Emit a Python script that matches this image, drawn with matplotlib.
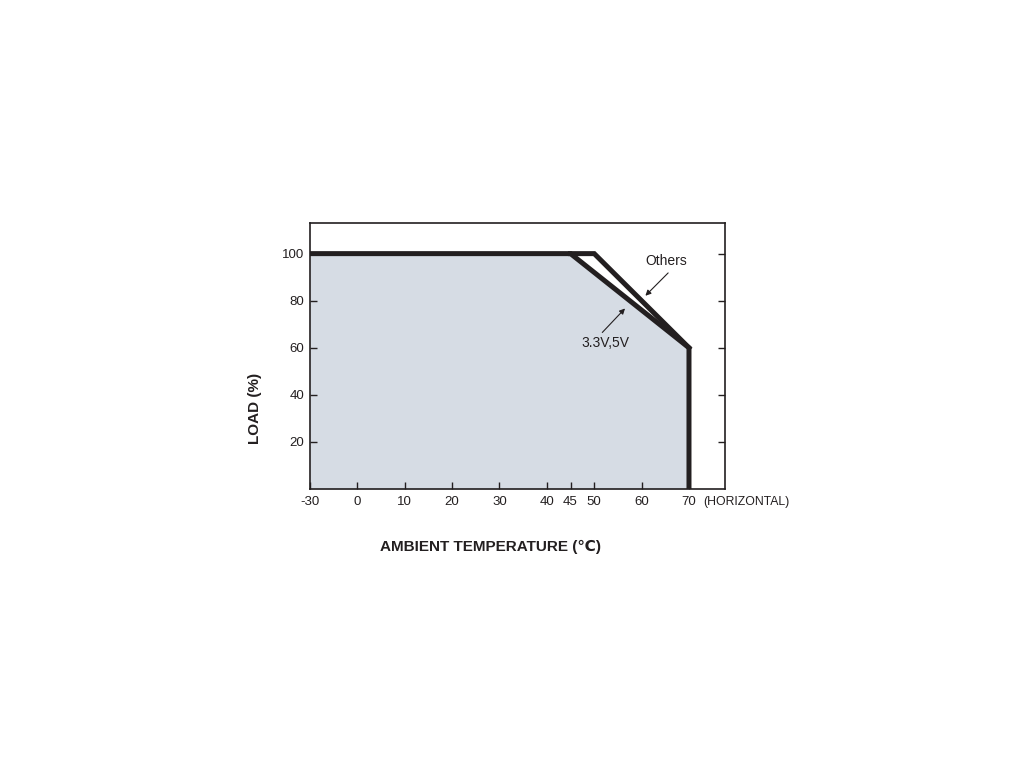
import matplotlib
matplotlib.use('Agg')
import matplotlib.pyplot as plt

plt.rcParams['font.family'] = ['Liberation Sans', 'DejaVu Sans']

# derating curves: ambient temperature (C) vs load (%)
temp_low = [-30, 45, 70, 70]      # 3.3V, 5V
load_low = [100, 100, 60, 0]
temp_oth = [45, 50, 70]           # Others
load_oth = [100, 100, 60]

xticks = [-30, 0, 10, 20, 30, 40, 45, 50, 60, 70]
xticklabels = ['-30', '0', '10', '20', '30', '40', '45', '50', '60', '70']
yticks = [20, 40, 60, 80, 100]

# the axis is broken: -30 sits one grid step left of 0
def xpos(t):
    return -10 if t == -30 else t

dark = '#231f20'

fig = plt.figure(figsize=(10.24, 7.68), dpi=100)
ax = fig.add_axes([0.3027, 0.3633, 0.4053, 0.3463])

xl = [xpos(t) for t in temp_low]
xo = [xpos(t) for t in temp_oth]
ax.fill_between(xl, load_low, 0, color='#d6dce4', zorder=1, linewidth=0)
ax.plot(xo, load_oth, color=dark, lw=3.6, solid_joinstyle='miter', zorder=3)
ax.plot(xl, load_low, color=dark, lw=3.6, solid_joinstyle='miter', zorder=4)

ax.set_xlim(-10, 77.6)
ax.set_ylim(0, 113)
ax.set_xticks([xpos(t) for t in xticks])
ax.set_xticklabels(xticklabels)
ax.set_yticks(yticks)
ax.tick_params(direction='in', length=5, width=1, color=dark, labelsize=9.5,
               labelcolor=dark, left=True, right=True, pad=5)
ax.tick_params(axis='y', pad=4)
for s in ax.spines.values():
    s.set_color(dark)
    s.set_linewidth(1.2)

ax.text(73.0, -5.4, '(HORIZONTAL)', fontsize=8.8, color=dark, ha='left', va='center',
        clip_on=False)

arrow = dict(arrowstyle='-|>', color=dark, lw=0.8, mutation_scale=8, shrinkA=0, shrinkB=0)
ax.text(65.2, 96.9, 'Others', fontsize=10, color=dark, ha='center', va='center')
ax.annotate('', xy=(60.8, 82.1), xytext=(65.6, 91.8), arrowprops=arrow)
ax.text(52.3, 61.9, '3.3V,5V', fontsize=10, color=dark, ha='center', va='center')
ax.annotate('', xy=(56.5, 76.7), xytext=(51.7, 66.5), arrowprops=arrow)

fig.text(0.479, 0.288, 'AMBIENT TEMPERATURE (℃)', fontsize=11, fontweight='bold',
         color=dark, ha='center', va='center')
fig.text(0.249, 0.468, 'LOAD (%)', fontsize=11, fontweight='bold', color=dark,
         rotation=90, ha='center', va='center')

fig.savefig('out.png', dpi=100)
